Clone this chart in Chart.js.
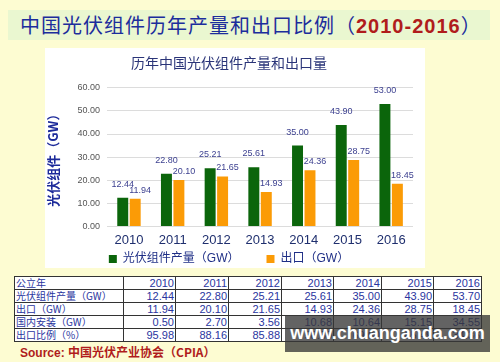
<!DOCTYPE html>
<html>
<head>
<meta charset="utf-8">
<script src="https://cdn.jsdelivr.net/npm/chart.js@4"></script>
<style>
  body { margin: 0; width: 500px; height: 362px; background: #fdfcd2; position: relative; overflow: hidden;
         font-family: "Liberation Sans", "Noto Sans CJK SC", sans-serif; }
  #band { position: absolute; left: 8px; top: 10px; width: 482px; height: 30px; background: #eaf7d0; }
  #title { position: absolute; left: 20px; top: 12px; font-size: 20px; line-height: 26px; color: #1c2d9c;
           font-family: "Noto Sans CJK SC", sans-serif; letter-spacing: 1px; white-space: nowrap; }
  #title b { color: #b01c1c; font-family: "Liberation Sans", sans-serif; }
  #panel { position: absolute; left: 45px; top: 48px; width: 380px; height: 220px; background: #fff; }
  #data { position: absolute; left: 14px; top: 276px; border-collapse: collapse; background: #fff;
          font-size: 11px; color: #2a35a0; }
  #data td { border: 1px solid #333; height: 12px; padding: 0 1px; text-align: right; line-height: 12px; }
  #data td:first-child { text-align: left; font-family: "Noto Sans CJK SC", sans-serif; font-size: 10px; width: 106px; }
  #src { position: absolute; left: 20px; top: 343px; font-size: 12px; font-weight: bold; color: #b01c1c; }
  #src span { font-family: "Noto Sans CJK SC", sans-serif; }
  #wm { position: absolute; left: 285px; top: 315px; width: 205px; height: 37px; background: rgba(55,55,55,0.78);
        color: #fff; font-size: 18px; font-weight: bold; text-align: center; line-height: 37px; }
</style>
</head>
<body>
<div id="band"></div>
<div id="title">中国光伏组件历年产量和出口比例（<b>2010-2016</b>）</div>
<div id="panel"><canvas id="c" width="380" height="220"></canvas></div>
<table id="data"></table>
<div id="src">Source: <span>中国光伏产业协会（CPIA）</span></div>
<div id="wm">www.chuanganda.com</div>
<script>
const years = ['2010', '2011', '2012', '2013', '2014', '2015', '2016'];
const output = [12.44, 22.80, 25.21, 25.61, 35.00, 43.90, 53.00];
const exports = [11.94, 20.10, 21.65, 14.93, 24.36, 28.75, 18.45];
const yTicks = [0, 10, 20, 30, 40, 50, 60];

// table rows
const tableOutput = [12.44, 22.80, 25.21, 25.61, 35.00, 43.90, 53.70];
const tableExport = [11.94, 20.10, 21.65, 14.93, 24.36, 28.75, 18.45];
const tableDomestic = [0.50, 2.70, 3.56, 10.68, 10.64, 15.15, 34.55];
const tableRatio = [95.98, 88.16, 85.88, 58.30, 69.60, 65.49, 34.36];

const rows = [
  ['公立年', years],
  ['光伏组件产量（GW）', tableOutput.map(v => v.toFixed(2))],
  ['出口（GW）', tableExport.map(v => v.toFixed(2))],
  ['国内安装（GW）', tableDomestic.map(v => v.toFixed(2))],
  ['出口比例（%）', tableRatio.map(v => v.toFixed(2))]
];
const colW = [52, 53, 53, 52, 48, 52, 48];
const table = document.getElementById('data');
rows.forEach(r => {
  table.innerHTML += '<tr><td>' + r[0] + '</td>' +
    r[1].map((v, i) => '<td style="width:' + (colW[i] - 3) + 'px">' + v + '</td>').join('') + '</tr>';
});

/* value labels above the bars */
const valueLabels = {
  id: 'valueLabels',
  afterDatasetsDraw(chart) {
    const ctx = chart.ctx;
    ctx.save();
    ctx.font = '9px "Liberation Sans"';
    ctx.fillStyle = '#3b3f8f';
    ctx.textAlign = 'center';
    ctx.textBaseline = 'bottom';
    chart.data.datasets.forEach((ds, di) => {
      chart.getDatasetMeta(di).data.forEach((bar, i) => {
        const dx = di === 0 ? 0 : 5;
        const dy = di === 0 ? 9 : 4;
        ctx.fillText(ds.data[i].toFixed(2), bar.x + dx, bar.y - dy);
      });
    });
    ctx.restore();
  }
};

new Chart(document.getElementById('c'), {
  type: 'bar',
  data: {
    labels: years,
    datasets: [
      { label: '光伏组件产量（GW）', data: output, backgroundColor: '#0b650b' },
      { label: '出口（GW）', data: exports, backgroundColor: '#fb9b06' }
    ]
  },
  options: {
    responsive: false,
    animation: false,
    layout: { padding: { right: 12, left: 0, top: 0, bottom: -7 } },
    datasets: { bar: { categoryPercentage: 0.57, barPercentage: 0.88 } },
    plugins: {
      title: {
        display: true,
        text: '历年中国光伏组件产量和出口量',
        color: '#2a3478',
        font: { family: '"Noto Sans CJK SC"', size: 14, weight: 'normal' },
        padding: { top: 6, bottom: 17 }
      },
      legend: {
        position: 'bottom',
        labels: {
          boxWidth: 8, boxHeight: 8, padding: 7,
          color: '#1f2f86',
          font: { family: '"Liberation Sans", "Noto Sans CJK SC"', size: 12 },
          generateLabels: chart => {
            const items = Chart.defaults.plugins.legend.labels.generateLabels(chart);
            items[0].text += '      ';
            return items;
          }
        }
      },
      tooltip: { enabled: false }
    },
    scales: {
      x: {
        grid: { display: false },
        border: { display: false },
        ticks: { color: '#1f2f6e', font: { family: '"Liberation Sans"', size: 13 }, padding: -2 }
      },
      y: {
        min: 0, max: 60,
        afterBuildTicks: axis => { axis.ticks = yTicks.map(v => ({ value: v })); },
        grid: { color: '#dcdcdc', drawTicks: false },
        border: { display: false },
        ticks: { color: '#555', font: { family: '"Liberation Sans"', size: 9 }, padding: 7,
                 callback: v => v.toFixed(2) },
        title: {
          display: true, text: '光伏组件（GW）', color: '#1c2a9a',
          font: { family: '"Noto Sans CJK SC"', size: 13, weight: 'bold' }, padding: { top: 0, bottom: 10 }
        }
      }
    }
  },
  plugins: [valueLabels]
});
</script>
</body>
</html>
